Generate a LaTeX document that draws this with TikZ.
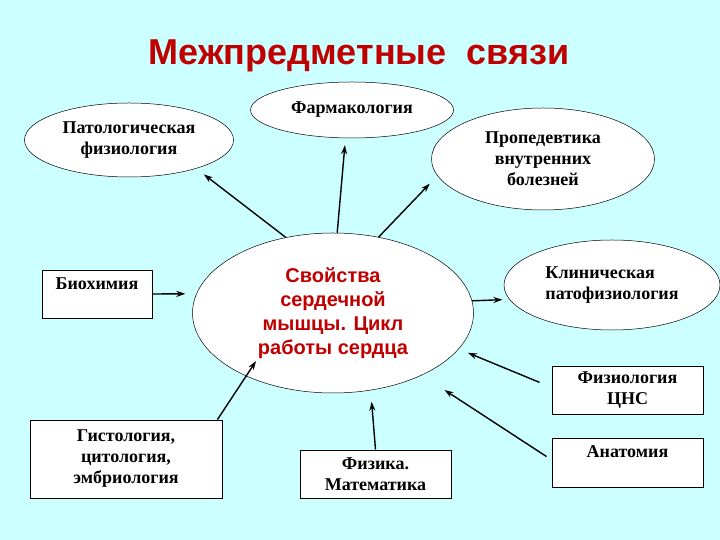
\documentclass[tikz,border=0pt]{standalone}
\usepackage{fontspec}
\setmainfont{Liberation Serif}
\setsansfont{Liberation Sans}
\usetikzlibrary{shapes.geometric,arrows.meta}
\definecolor{bgcyan}{RGB}{204,255,255}
\definecolor{darkred}{RGB}{192,0,0}
\tikzset{
  ell/.style={ellipse, draw, line width=0.5pt, fill=white, inner sep=0pt, align=center,
    font=\bfseries\fontsize{18}{21}\selectfont},
  box/.style={rectangle, draw, line width=0.9pt, fill=white, inner sep=0pt, align=center,
    font=\bfseries\fontsize{18}{21}\selectfont},
  arr/.style={line width=1.4pt, -{Stealth[length=9pt,width=6pt]}},
}
\begin{document}
\begin{tikzpicture}[x=1pt,y=1pt]

% Background
\fill[bgcyan] (0,0) rectangle (720,540);
\useasboundingbox (0,0) rectangle (720,540);

% Title
\node[anchor=base, text=darkred, font=\sffamily\bfseries\fontsize{36}{42}\selectfont] (title) at (359,475) {Межпредметные\ \ связи};

% Central ellipse
\node[ell, minimum width=281, minimum height=160, text=darkred, font=\sffamily\bfseries\fontsize{20}{24}\selectfont] (heart) at (333,227)
  {Свойства\\сердечной\\мышцы. Цикл\\работы сердца};

% Ellipses
\node[ell, minimum width=203, minimum height=56] (pharm) at (352,430) {Фармакология};
\node[ell, minimum width=209, minimum height=74] (patfiz) at (129,400) {Патологическая\\физиология};
\node[ell, minimum width=223, minimum height=102] (proped) at (543,381) {Пропедевтика\\внутренних\\болезней};
\node[ell, minimum width=216, minimum height=90, align=left] (clin) at (612,255) {Клиническая\\патофизиология};

% Boxes
\node[box, minimum width=110, minimum height=48] (biochem) at (97,246) {Биохимия\\\mbox{}};
\node[box, minimum width=192, minimum height=78] (histo) at (126,81) {Гистология,\\цитология,\\эмбриология};
\node[box, minimum width=151, minimum height=48] (phys) at (375.5,66) {Физика.\\Математика};
\node[box, minimum width=151, minimum height=48] (cns) at (627.5,150) {Физиология\\ЦНС};
\node[box, minimum width=151, minimum height=49] (anat) at (627.5,77.5) {Анатомия\\\mbox{}};

% Outgoing arrows
\draw[arr, shorten >=9.5pt] (heart.122) -- (patfiz.-23);
\draw[arr, shorten >=7pt] (heart.87) -- (pharm.-103);
\draw[arr, shorten >=11pt] (heart.59) -- (proped.189);
\draw[arr, shorten >=7pt] (heart.5) -- (clin.188);

% Incoming arrows
\draw[arr, shorten >=11pt] (biochem.east) -- (heart.172);
\draw[arr, shorten >=-18pt] ([xshift=-5pt]histo.north east) -- (heart.216);
\draw[arr, shorten >=11.5pt] (phys.north) -- (heart.-64);
\draw[arr, shorten <=13pt, shorten >=10pt] (cns.178) -- (heart.-16);
\draw[arr, shorten <=6pt, shorten >=27pt] (anat.178) -- (heart.-35);

\end{tikzpicture}
\end{document}
